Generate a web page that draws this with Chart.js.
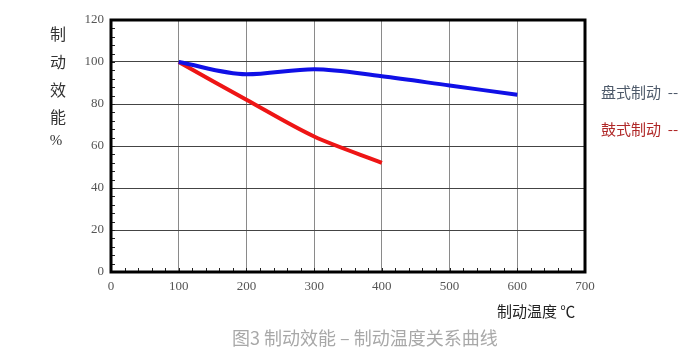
<!DOCTYPE html>
<html><head><meta charset="utf-8">
<script src="https://cdn.jsdelivr.net/npm/chart.js@4/dist/chart.umd.min.js"></script>
<style>html,body{margin:0;padding:0;background:#fff}#wrap{width:695px;height:364px;position:relative}</style>
</head><body><div id="wrap"><canvas id="c" width="695" height="364"></canvas></div>
<script>
const temps = [100, 200, 300, 400, 500, 600];
const discValues = [100, 94.2, 96.6, 93.2, 88.8, 84.4];
const drumTemps = [100, 200, 300, 400];
const drumValues = [100, 82, 64.5, 52];
const xTicks = [0, 100, 200, 300, 400, 500, 600, 700];
const yTicks = [0, 20, 40, 60, 80, 100, 120];
const yTitle = ['制', '动', '效', '能', '%'];
const legendLabels = ['盘式制动  --', '鼓式制动  --'];
const xTitle = '制动温度 ℃';
const caption = '图3 制动效能 – 制动温度关系曲线';

const deco = {
  id: 'deco',
  afterDraw(chart) {
    const ctx = chart.ctx, a = chart.chartArea;
    const xs = chart.scales.x, ys = chart.scales.y;
    ctx.save();
    ctx.strokeStyle = '#222'; ctx.lineWidth = 1;
    for (let v = 0; v <= 120; v += 4) {
      const y = Math.round(ys.getPixelForValue(v)) + 0.5;
      ctx.beginPath(); ctx.moveTo(a.left, y); ctx.lineTo(a.left + 4, y); ctx.stroke();
    }
    for (let v = 0; v <= 700; v += 20) {
      const x = Math.round(xs.getPixelForValue(v)) + 0.5;
      ctx.beginPath(); ctx.moveTo(x, a.bottom); ctx.lineTo(x, a.bottom - 4); ctx.stroke();
    }
    ctx.strokeStyle = '#000'; ctx.lineWidth = 3;
    ctx.strokeRect(a.left, a.top, a.right - a.left, a.bottom - a.top);
    ctx.fillStyle = '#333'; ctx.font = '16px "Noto Sans CJK SC"'; ctx.textAlign = 'center'; ctx.textBaseline = 'middle';
    const ys0 = [34, 62, 90, 117];
    for (let i = 0; i < 4; i++) ctx.fillText(yTitle[i], 58, ys0[i]);
    ctx.font = '15px "Liberation Serif"'; ctx.fillText(yTitle[4], 56, 141);
    ctx.textAlign = 'left'; ctx.font = '15px "Noto Sans CJK SC"';
    ctx.fillStyle = '#4e5a6a'; ctx.fillText(legendLabels[0], 601, 92);
    ctx.fillStyle = '#b02828'; ctx.fillText(legendLabels[1], 601, 129);
    ctx.fillStyle = '#222'; ctx.font = '15px "Noto Sans CJK SC"';
    ctx.fillText(xTitle, 497, 311);
    ctx.fillStyle = '#a8a8a8'; ctx.font = '18px "Noto Sans CJK SC"';
    ctx.fillText(caption, 232, 338);
    ctx.restore();
  }
};

new Chart(document.getElementById('c'), {
  type: 'line',
  data: {
    datasets: [
      { label: '盘式制动', data: temps.map((t, i) => ({x: t, y: discValues[i]})), borderColor: '#1010e6', borderWidth: 4, pointRadius: 0, tension: 0.4, cubicInterpolationMode: 'monotone', fill: false },
      { label: '鼓式制动', data: drumTemps.map((t, i) => ({x: t, y: drumValues[i]})), borderColor: '#ee1515', borderWidth: 4, pointRadius: 0, tension: 0.3, fill: false }
    ]
  },
  options: {
    responsive: false, animation: false,
    layout: { padding: { left: 0, top: 20, right: 110, bottom: 0 } },
    plugins: { legend: { display: false }, tooltip: { enabled: false } },
    scales: {
      x: {
        type: 'linear', min: 0, max: 700,
        afterBuildTicks(s) { s.ticks = xTicks.map(v => ({value: v})); },
        afterFit(s) { s.height = 92; },
        grid: { color: '#8a8a8a', lineWidth: 1, drawTicks: false },
        border: { display: false },
        ticks: { color: '#555', font: { family: 'Liberation Serif', size: 13 }, padding: 7, maxRotation: 0, autoSkip: false }
      },
      y: {
        min: 0, max: 120,
        afterBuildTicks(s) { s.ticks = yTicks.map(v => ({value: v})); },
        afterFit(s) { s.width = 111; },
        grid: { color: '#444', lineWidth: 1, drawTicks: false },
        border: { display: false },
        ticks: { color: '#555', font: { family: 'Liberation Serif', size: 13 }, padding: 7 }
      }
    }
  },
  plugins: [deco]
});
</script></body></html>
